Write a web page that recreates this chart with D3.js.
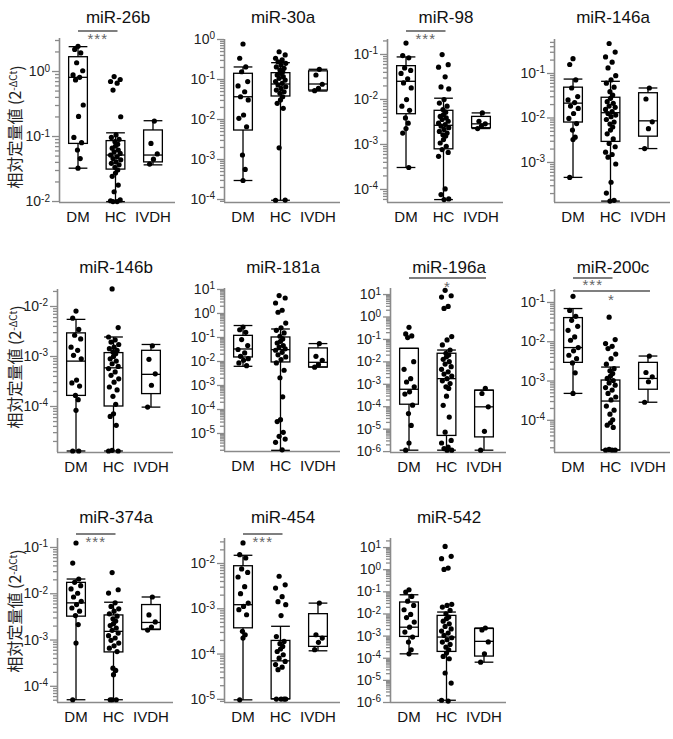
<!DOCTYPE html>
<html><head><meta charset="utf-8">
<script src="https://cdn.jsdelivr.net/npm/d3@7"></script>
<style>body{margin:0;background:#fff}</style>
</head><body><svg id="c" width="673" height="739"></svg>
<script>
const groups = ["DM","HC","IVDH"];
const titles = ["miR-26b","miR-30a","miR-98","miR-146a","miR-146b","miR-181a","miR-196a","miR-200c","miR-374a","miR-454","miR-542"];

// box stats per group: [whisker low, Q1, median, Q3, whisker high]
const DM_26b = [2.4,2.15,1.9,1.34,1.01,0.87,0.80,0.73,0.30,0.20,0.095,0.079,0.061,0.045,0.032];
const HC_26b = [0.82,0.74,0.69,0.65,0.51,0.198,0.104,0.095,0.089,0.082,0.075,0.070,0.065,0.061,0.057,0.054,0.051,0.048,0.045,0.043,0.040,0.038,0.036,0.033,0.030,0.027,0.024,0.0176,0.0139,0.0104,0.0101,0.0098,0.0098];
const IVDH_26b = [0.17,0.077,0.053,0.044,0.037];
const BOX_26b = [[0.032,0.077,0.8,1.66,2.37],[0.0098,0.031,0.051,0.085,0.112],[0.036,0.040,0.051,0.124,0.172]];

const DM_30a = [0.75,0.33,0.2,0.152,0.086,0.067,0.048,0.036,0.030,0.0126,0.0104,0.0064,0.00126,0.00055,0.00029];
const HC_30a = [0.48,0.40,0.33,0.30,0.27,0.246,0.224,0.2,0.185,0.168,0.152,0.139,0.126,0.114,0.104,0.094,0.086,0.078,0.071,0.064,0.058,0.053,0.048,0.044,0.036,0.030,0.0247,0.0185,0.0019,0.000094,0.000093];
const IVDH_30a = [0.175,0.126,0.074,0.058,0.051];
const BOX_30a = [[0.00029,0.0053,0.036,0.139,0.2],[0.000093,0.0376,0.075,0.144,0.256],[0.05,0.053,0.075,0.16,0.175]];

const DM_98 = [0.175,0.092,0.082,0.049,0.043,0.037,0.028,0.0227,0.0176,0.0097,0.0069,0.0056,0.0038,0.0029,0.0022,0.00175,0.0003];
const HC_98 = [0.097,0.058,0.051,0.031,0.0185,0.0167,0.0097,0.0081,0.0069,0.0058,0.0051,0.0045,0.0041,0.0038,0.0035,0.0032,0.0029,0.0027,0.0025,0.0023,0.0021,0.0019,0.00175,0.0016,0.0015,0.00125,0.00105,0.00089,0.00075,0.00065,0.00053,0.0001,0.000075,0.00006,0.000058];
const IVDH_98 = [0.0049,0.0032,0.0028,0.0025,0.0022];
const BOX_98 = [[0.0003,0.0047,0.0247,0.055,0.086],[0.000058,0.00078,0.0026,0.0056,0.0104],[0.0022,0.0023,0.0028,0.0041,0.0049]];

const DM_146a = [0.21,0.155,0.07,0.046,0.0295,0.0248,0.0216,0.018,0.016,0.0123,0.0095,0.0073,0.0052,0.0036,0.0032,0.00045];
const HC_146a = [0.46,0.295,0.23,0.175,0.13,0.087,0.07,0.059,0.048,0.038,0.032,0.027,0.0227,0.0208,0.018,0.0169,0.0152,0.0135,0.0123,0.0113,0.0104,0.009,0.0079,0.0071,0.0061,0.0052,0.0043,0.0033,0.0026,0.0022,0.00166,0.00147,0.00128,0.0009,0.00035,0.0002,0.000137,0.000132];
const IVDH_146a = [0.046,0.026,0.008,0.0056,0.002];
const BOX_146a = [[0.00045,0.0079,0.021,0.048,0.073],[0.000132,0.0029,0.0128,0.0285,0.065],[0.002,0.0038,0.0084,0.036,0.046]];

const DM_146b = [0.0079,0.0057,0.0034,0.0026,0.0022,0.0015,0.0013,0.00103,0.00088,0.00033,0.00029,0.00025,0.000163,0.000134,0.000082,0.0000126,0.0000126];
const HC_146b = [0.022,0.0037,0.0024,0.0021,0.0019,0.0017,0.0015,0.0014,0.0013,0.0012,0.00111,0.00098,0.00088,0.00079,0.0007,0.00062,0.00056,0.00048,0.00041,0.00035,0.0003,0.00024,0.00021,0.000156,0.000108,0.00007,0.000062,0.000041,0.000013,0.0000126,0.0000126];
const IVDH_146b = [0.0016,0.00086,0.00044,0.00026,0.000095];
const BOX_146b = [[0.0000126,0.000163,0.00079,0.0029,0.0054],[0.0000126,0.0001,0.00058,0.00117,0.0024],[0.000095,0.000177,0.00043,0.0013,0.0017]];

const DM_181a = [0.26,0.2,0.156,0.078,0.044,0.03,0.0216,0.0156,0.0125,0.0107,0.0083,0.0064];
const HC_181a = [5.3,4.2,2.6,1.3,1.07,0.38,0.24,0.19,0.147,0.107,0.083,0.066,0.056,0.044,0.038,0.032,0.028,0.023,0.018,0.0147,0.0114,0.0083,0.0041,0.002,0.00032,0.000036,0.00003,0.0000107,0.0000073,0.0000056,0.0000041,0.000002];
const IVDH_181a = [0.053,0.0157,0.0107,0.0071,0.0055];
const BOX_181a = [[0.006,0.0147,0.0316,0.117,0.3],[0.0000019,0.0091,0.0297,0.1,0.215],[0.0056,0.0056,0.0088,0.035,0.053]];

const DM_196a = [0.33,0.167,0.136,0.115,0.0097,0.0044,0.0017,0.0012,0.00073,0.00044,0.00035,0.000111,0.000047,0.000014,0.0000023,0.0000011];
const HC_196a = [14.6,8.4,7.3,2.8,2.3,0.127,0.09,0.054,0.032,0.023,0.019,0.016,0.0123,0.0097,0.0076,0.0058,0.0044,0.0034,0.0027,0.0022,0.0017,0.00136,0.00103,0.00073,0.00062,0.00028,0.00011,0.000033,0.000007,0.000003,0.0000023,0.0000015,0.0000013,0.0000011,0.0000011];
const IVDH_196a = [0.00063,0.00037,0.000094,0.0000076,0.0000011];
const BOX_196a = [[0.0000011,0.000123,0.00057,0.038,0.038],[0.0000011,0.000005,0.0017,0.023,0.032],[0.0000011,0.0000043,0.000094,0.00052,0.00052]];

const DM_200c = [0.139,0.061,0.043,0.034,0.024,0.019,0.0129,0.0106,0.0069,0.0057,0.0044,0.0036,0.0028,0.00157,0.00047];
const HC_200c = [0.041,0.011,0.0087,0.0074,0.0065,0.0047,0.0036,0.0026,0.002,0.00176,0.0015,0.0013,0.00113,0.001,0.00087,0.00076,0.00066,0.00057,0.00047,0.00038,0.00032,0.000223,0.000176,0.000139,0.0001,0.000084,0.000073,0.000064,0.0000176,0.000017,0.000017,0.000017];
const IVDH_200c = [0.0042,0.0016,0.00124,0.00093,0.00028];
const BOX_200c = [[0.00047,0.0029,0.0069,0.04,0.068],[0.000017,0.000017,0.0003,0.00103,0.0022],[0.00028,0.0006,0.00113,0.0029,0.0042]];

const DM_374a = [0.122,0.045,0.0203,0.0172,0.0146,0.0124,0.01,0.0083,0.0067,0.0057,0.0048,0.0041,0.0033,0.0021,0.00084,0.00005];
const HC_374a = [0.028,0.0119,0.0101,0.0062,0.0052,0.0046,0.0041,0.0036,0.0032,0.0028,0.0025,0.0022,0.002,0.00177,0.00158,0.00138,0.00121,0.00108,0.00096,0.00084,0.00073,0.00065,0.00055,0.00024,0.000215,0.000174,0.00005,0.00005,0.00005];
const IVDH_374a = [0.0083,0.0034,0.0024,0.00186,0.0016];
const BOX_374a = [[0.00005,0.0032,0.0062,0.0172,0.0203],[0.00005,0.00054,0.0015,0.0034,0.0064],[0.00164,0.00168,0.00234,0.0057,0.0083]];

const DM_454 = [0.0277,0.0153,0.0129,0.0074,0.0062,0.0049,0.003,0.0021,0.0013,0.0011,0.00093,0.00072,0.00031,0.00026,0.00022,0.0000095];
const HC_454 = [0.0051,0.0033,0.0028,0.0018,0.0014,0.0012,0.00069,0.000238,0.000185,0.000165,0.000144,0.000126,0.000111,0.000094,0.000079,0.000067,0.000057,0.00005,0.000044,0.0000099,0.0000099,0.0000099,0.0000099];
const IVDH_454 = [0.0013,0.00026,0.00022,0.000177,0.000122];
const BOX_454 = [[0.0000095,0.00037,0.0012,0.0087,0.0148],[0.00001,0.00001,0.000069,0.000195,0.0004],[0.000115,0.000144,0.00024,0.00076,0.0013]];

const DM_542 = [0.118,0.093,0.059,0.036,0.023,0.0147,0.0091,0.0065,0.0041,0.0024,0.00144,0.00086,0.00051,0.00023,0.00015];
const HC_542 = [10.7,3.8,3.0,1.12,0.98,0.026,0.023,0.0195,0.0138,0.0097,0.0069,0.0058,0.0045,0.0034,0.0026,0.002,0.0016,0.0013,0.00102,0.0008,0.00065,0.00051,0.0004,0.0003,0.00023,0.000163,0.000115,0.00009,0.0000204,0.0000072,0.0000012,0.0000011];
const IVDH_542 = [0.0022,0.0018,0.00052,0.00015,0.000063];
const BOX_542 = [[0.00015,0.00092,0.0024,0.033,0.07],[0.0000012,0.000193,0.00086,0.0082,0.0116],[0.000063,0.000119,0.00055,0.0021,0.0022]];

const points = [
  [DM_26b,HC_26b,IVDH_26b],[DM_30a,HC_30a,IVDH_30a],[DM_98,HC_98,IVDH_98],[DM_146a,HC_146a,IVDH_146a],
  [DM_146b,HC_146b,IVDH_146b],[DM_181a,HC_181a,IVDH_181a],[DM_196a,HC_196a,IVDH_196a],[DM_200c,HC_200c,IVDH_200c],
  [DM_374a,HC_374a,IVDH_374a],[DM_454,HC_454,IVDH_454],[DM_542,HC_542,IVDH_542]];
const boxes = [BOX_26b,BOX_30a,BOX_98,BOX_146a,BOX_146b,BOX_181a,BOX_196a,BOX_200c,BOX_374a,BOX_454,BOX_542];

// significance annotations
const sigPanel = [0,2,6,7,7,8,9];
const sigFrom  = ["DM","DM","DM","DM","DM","DM","DM"];
const sigTo    = ["HC","HC","IVDH","HC","IVDH","HC","HC"];
const sigText  = ["***","***","*","***","*","***","***"];

// layout (axis positions and log-domain exponents)
const layout = [
  {x0:59,  top:38,  bottom:202, lo:-2.015, hi:0.508, row:0},
  {x0:224, top:39,  bottom:202, lo:-4.075, hi:0,     row:0},
  {x0:387, top:39,  bottom:202, lo:-4.29,  hi:-0.667,row:0},
  {x0:554, top:39,  bottom:202, lo:-3.9,   hi:-0.236,row:0},
  {x0:57,  top:289, bottom:452, lo:-4.92,  hi:-1.66, row:1},
  {x0:224, top:288, bottom:451, lo:-5.75,  hi:1.04,  row:1},
  {x0:390, top:288, bottom:452, lo:-6.04,  hi:1.27,  row:1},
  {x0:554, top:289, bottom:452, lo:-4.82,  hi:-0.67, row:1},
  {x0:57,  top:538, bottom:702, lo:-4.35,  hi:-0.806,row:2},
  {x0:224, top:538, bottom:702, lo:-5.07,  hi:-1.448,row:2},
  {x0:390, top:538, bottom:702, lo:-6.0,   hi:1.41,  row:2}
];
const sigLayout = [
  {ly:31, ty:44, tx:"mid"}, {ly:31, ty:44, tx:"mid"},
  {ly:278, ty:292, tx:"HC"},
  {ly:278, ty:290, tx:"mid"}, {ly:291, ty:305, tx:"HC"},
  {ly:534, ty:547, tx:"mid"}, {ly:534, ty:547, tx:"mid"}
];
const titleY = [23, 273, 523];
const ylabY = [127, 367, 611];

const AX = "#8a8a8a";
const FONT = "'Liberation Sans', Arial, Helvetica, sans-serif";
const svg = d3.select("#c").attr("font-family", FONT);
const jitterSeq = [0, -0.6, 0.5, -0.25, 0.85, -0.9, 0.3, -0.45, 0.95, 0.1, -0.75, 0.65, -0.1, 0.4];

const scales = [];
layout.forEach((L, p) => {
  const g = svg.append("g");
  const y = d3.scaleLog().domain([Math.pow(10, L.lo), Math.pow(10, L.hi)]).range([L.bottom, L.top]);
  const x = d3.scaleBand().domain(groups).range([L.x0, L.x0 + 113]).paddingInner(0.5).paddingOuter(0.257);
  scales.push({x, y});
  const minor = [], major = [];
  for (let k = Math.floor(L.lo); k <= Math.ceil(L.hi); k++) {
    for (let m = 1; m <= 9; m++) {
      const lv = Math.log10(m) + k;
      if (lv >= L.lo - 1e-9 && lv <= L.hi + 1e-9) (m === 1 ? major : minor).push(m * Math.pow(10, k));
    }
  }
  const minAx = g.append("g").attr("transform", `translate(${L.x0},0)`)
    .call(d3.axisLeft(y).tickValues(minor).tickSize(4).tickSizeOuter(0).tickFormat(""));
  minAx.select(".domain").remove();
  const majAx = g.append("g").attr("transform", `translate(${L.x0},0)`)
    .call(d3.axisLeft(y).tickValues(major).tickSize(7).tickSizeOuter(0).tickFormat(""));
  [minAx, majAx].forEach(a => a.selectAll("line").attr("stroke", AX).attr("stroke-width", 1.3));
  majAx.select(".domain").attr("stroke", AX).attr("stroke-width", 1.6)
    .attr("d", `M0.5,${L.bottom}V${L.top}`);
  majAx.selectAll(".tick text").attr("font-family", FONT).attr("font-size", 14).attr("fill", "#222").attr("x", -9)
    .each(function(d) {
      const t = d3.select(this);
      t.append("tspan").text("10");
      t.append("tspan").attr("dy", "-0.45em").attr("font-size", 10).text(String(Math.round(Math.log10(d))));
    });
  // x axis
  const xa = g.append("g").attr("transform", `translate(0,${L.bottom})`)
    .call(d3.axisBottom(x).tickSize(0).tickSizeOuter(0).tickPadding(9));
  xa.select(".domain").attr("stroke", AX).attr("stroke-width", 1.6).attr("d", `M${L.x0},0.5H${L.x0 + 116}`);
  xa.selectAll("text").attr("font-family", FONT).attr("font-size", 15).attr("fill", "#111");
  // title
  g.append("text").attr("x", L.x0 + 59).attr("y", titleY[L.row]).attr("text-anchor", "middle")
    .attr("font-size", 17).attr("fill", "#111").text(titles[p]);
  // boxes
  const bw = x.bandwidth();
  groups.forEach((gr, i) => {
    const s = boxes[p][i];
    const x1 = x(gr), cx = x1 + bw / 2;
    const bg = g.append("g").attr("stroke", "#000").attr("stroke-width", 1.3).attr("fill", "none");
    bg.append("line").attr("x1", cx).attr("x2", cx).attr("y1", y(s[4])).attr("y2", y(s[3]));
    bg.append("line").attr("x1", cx).attr("x2", cx).attr("y1", y(s[1])).attr("y2", y(s[0]));
    bg.append("rect").attr("x", x1).attr("y", y(s[3])).attr("width", bw).attr("height", y(s[1]) - y(s[3]));
    bg.append("line").attr("x1", x1).attr("x2", x1 + bw).attr("y1", y(s[2])).attr("y2", y(s[2]));
    bg.append("line").attr("x1", x1).attr("x2", x1 + bw).attr("y1", y(s[4])).attr("y2", y(s[4]));
    bg.append("line").attr("x1", x1).attr("x2", x1 + bw).attr("y1", y(s[0])).attr("y2", y(s[0]));
    const amp = i === 2 ? 4.5 : 5.5;
    g.append("g").selectAll("circle").data(points[p][i]).join("circle")
      .attr("cx", (d, j) => cx + jitterSeq[(j + i * 3) % jitterSeq.length] * amp)
      .attr("cy", d => y(d)).attr("r", 2.6).attr("fill", "#000");
  });
});

// significance bars
sigPanel.forEach((p, k) => {
  const {x} = scales[p];
  const bw = x.bandwidth();
  const a = x(sigFrom[k]) + bw / 2, b = x(sigTo[k]) + bw / 2 + 2;
  const S = sigLayout[k];
  svg.append("line").attr("x1", a).attr("x2", b).attr("y1", S.ly).attr("y2", S.ly)
    .attr("stroke", "#555").attr("stroke-width", 1.5);
  const tx = S.tx === "mid" ? (a + b) / 2 : x(S.tx) + bw / 2 + 1;
  svg.append("text").attr("x", tx).attr("y", S.ty).attr("text-anchor", "middle")
    .attr("font-size", 15).attr("letter-spacing", 1).attr("fill", "#666").text(sigText[k]);
});

// y-axis labels
[0, 1, 2].forEach(r => {
  const t = svg.append("text").attr("transform", `translate(21,${ylabY[r]}) rotate(-90)`)
    .attr("text-anchor", "middle").attr("font-size", 16).attr("fill", "#222")
    .attr("font-family", "'Noto Sans CJK JP', 'Liberation Sans', sans-serif");
  t.append("tspan").text("相対定量値 (2");
  t.append("tspan").attr("dy", "-0.4em").attr("font-size", 10).text("-ΔCt");
  t.append("tspan").attr("dy", "0.4em").text(")");
});
</script>
</body></html>
